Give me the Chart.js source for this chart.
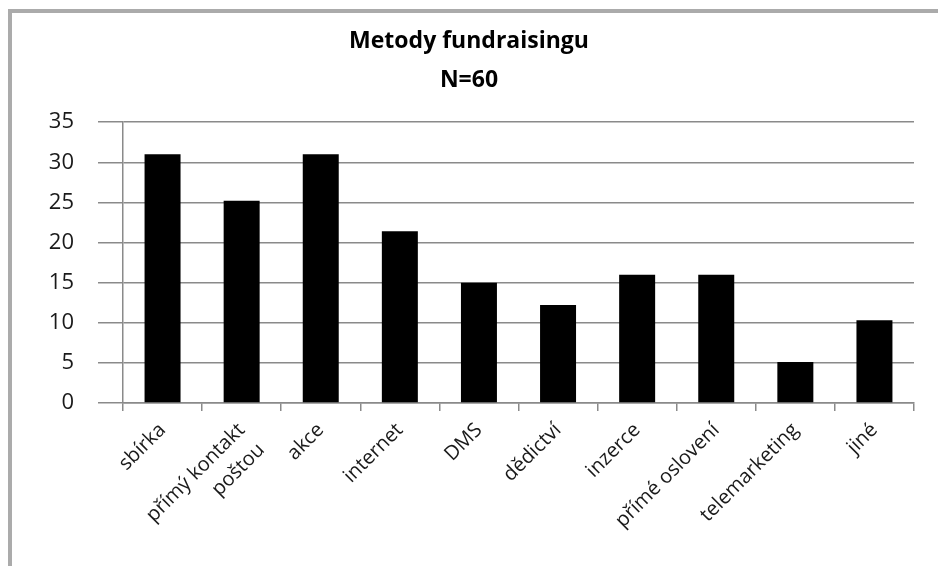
<!DOCTYPE html>
<html lang="cs">
<head>
  <meta charset="UTF-8">
  <title>Metody fundraisingu</title>
  <script src="https://cdn.jsdelivr.net/npm/chart.js"></script>
  <style>
    body {
      margin: 0;
      background-color: #fff;
    }
    #wrap {
      position: relative;
      width: 938px;
      height: 566px;
    }
    #frame {
      position: absolute;
      left: 8px;
      top: 9px;
      right: 0;
      bottom: 0;
      border-left: 4px solid #ababab;
      border-top: 4px solid #ababab;
    }
    canvas {
      position: absolute;
      left: 0;
      top: 0;
    }
  </style>
</head>
<body>
  <div id="wrap">
    <div id="frame"></div>
    <canvas id="myChart" width="938" height="566"></canvas>
  </div>

  <script>
    // Data
    const categories = [
      'sbírka',
      ['přímý kontakt', 'poštou'],
      'akce',
      'internet',
      'DMS',
      'dědictví',
      'inzerce',
      'přímé oslovení',
      'telemarketing',
      'jiné'
    ];
    const counts = [31, 25.2, 31, 21.4, 15, 12.2, 16, 16, 5.1, 10.3];
    const yTicks = [0, 5, 10, 15, 20, 25, 30, 35];
    const titleLines = ['Metody fundraisingu', 'N=60'];

    const fontFamily = '"Open Sans", "DejaVu Sans", sans-serif';

    const ctx = document.getElementById('myChart').getContext('2d');
    const chart = new Chart(ctx, {
      type: 'bar',
      data: {
        labels: categories,
        datasets: [{
          label: 'Počet',
          data: counts,
          backgroundColor: '#000',
          borderWidth: 0,
          barPercentage: 0.455,
          categoryPercentage: 1.0
        }]
      },
      options: {
        responsive: false,
        animation: false,
        layout: {
          // left + right equal so the title is centred on the page
          padding: { left: 24, right: 24, top: 0, bottom: 0 }
        },
        plugins: {
          legend: { display: false },
          tooltip: { enabled: false },
          title: {
            display: true,
            text: titleLines,
            color: '#000',
            font: { family: fontFamily, size: 23, weight: 'bold', lineHeight: 1.7 },
            padding: { top: 22, bottom: 22 }
          }
        },
        scales: {
          x: {
            grid: {
              display: true,
              drawOnChartArea: false,
              offset: true,
              color: '#8a8a8a',
              lineWidth: 1.5,
              tickLength: 8
            },
            border: { display: true, color: '#8a8a8a', width: 1.5 },
            ticks: {
              color: '#1a1a1a',
              font: { family: fontFamily, size: 20, lineHeight: 1.4 },
              minRotation: 45,
              maxRotation: 45,
              padding: 6,
              autoSkip: false
            },
            afterFit: function(scale) {
              scale.height = 163;
            }
          },
          y: {
            min: 0,
            max: 35,
            afterBuildTicks: function(scale) {
              scale.ticks = yTicks.map(v => ({ value: v }));
            },
            grid: {
              color: '#8a8a8a',
              lineWidth: 1.5,
              tickLength: 25
            },
            border: { display: true, color: '#8a8a8a', width: 1.5 },
            ticks: {
              color: '#1a1a1a',
              font: { family: fontFamily, size: 22 },
              padding: 24
            },
            afterFit: function(scale) {
              scale.width = 99;
            }
          }
        }
      }
    });
  </script>
</body>
</html>
